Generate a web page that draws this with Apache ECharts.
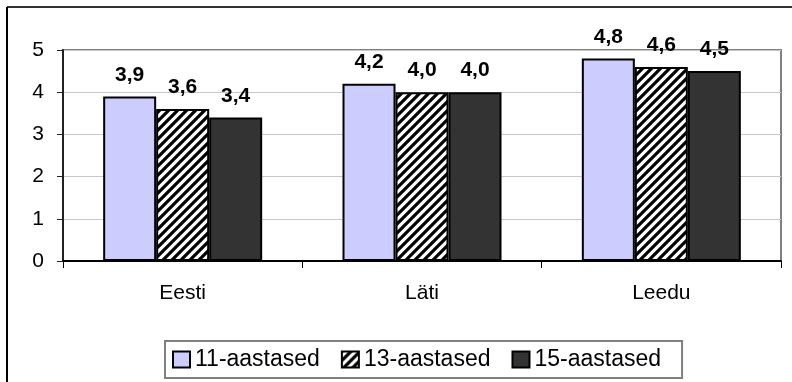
<!DOCTYPE html>
<html>
<head>
<meta charset="utf-8">
<script src="https://cdn.jsdelivr.net/npm/echarts@6/dist/echarts.min.js"></script>
<style>
  html, body { margin: 0; padding: 0; background: #fff; }
  #chart { width: 792px; height: 382px; }
</style>
</head>
<body>
<div id="chart"></div>
<script>
// Countries and age groups
const countries = ['Eesti', 'Läti', 'Leedu'];
const ageGroups = ['11-aastased', '13-aastased', '15-aastased'];

// Values per age group, in country order
const age11 = [3.9, 4.2, 4.8];
const age13 = [3.6, 4.0, 4.6];
const age15 = [3.4, 4.0, 4.5];

// Y axis range
const yTicks = [0, 1, 2, 3, 4, 5];

const FONT = "'Liberation Sans', Arial, sans-serif";

// Diagonal hatch fill ("/" stripes on white)
function makeHatch() {
  const s = 9;
  const c = document.createElement('canvas');
  c.width = s; c.height = s;
  const g = c.getContext('2d');
  g.fillStyle = '#ffffff';
  g.fillRect(0, 0, s, s);
  g.strokeStyle = '#000000';
  g.lineWidth = 3.2;
  g.beginPath();
  g.moveTo(-2, s + 2); g.lineTo(s + 2, -2);
  g.moveTo(-2, 2); g.lineTo(2, -2);
  g.moveTo(s - 2, s + 2); g.lineTo(s + 2, s - 2);
  g.stroke();
  return c;
}
const hatch = { image: makeHatch(), repeat: 'repeat' };

const fills = ['#ccccff', hatch, '#333333'];
const values = [age11, age13, age15];

const fmt = v => v.toFixed(1).replace('.', ',');

const chart = echarts.init(document.getElementById('chart'), null, { renderer: 'canvas' });

chart.setOption({
  animation: false,
  backgroundColor: '#ffffff',
  textStyle: { fontFamily: FONT },
  grid: {
    left: 63, right: 11, top: 50, bottom: 121,
    show: true, borderColor: '#808080', borderWidth: 2, backgroundColor: 'transparent'
  },
  legend: {
    data: ageGroups,
    left: 165, top: 341,
    padding: [7, 21, 7, 7],
    itemGap: 21,
    itemWidth: 17, itemHeight: 16,
    icon: 'rect',
    borderColor: '#808080', borderWidth: 2,
    itemStyle: { borderColor: '#000', borderWidth: 2 },
    textStyle: { fontFamily: FONT, fontSize: 23, color: '#000' }
  },
  xAxis: {
    type: 'category',
    data: countries,
    axisLine: { lineStyle: { color: '#000', width: 2 } },
    axisTick: { show: true, length: 7, inside: false, lineStyle: { color: '#000', width: 1 } },
    axisLabel: { fontFamily: FONT, fontSize: 21, color: '#000', margin: 22 },
    splitLine: { show: false }
  },
  yAxis: {
    type: 'value',
    min: yTicks[0], max: yTicks[yTicks.length - 1], interval: 1,
    axisLine: { show: true, lineStyle: { color: '#222', width: 2 } },
    axisTick: { show: true, length: 6, lineStyle: { color: '#222', width: 1 } },
    axisLabel: { fontFamily: FONT, fontSize: 21, color: '#000', margin: 19 },
    splitLine: { show: true, lineStyle: { color: '#c8c8c8', width: 1 } }
  },
  series: ageGroups.map((name, i) => ({
    name: name,
    type: 'bar',
    data: values[i],
    barWidth: 53,
    barGap: '0%',
    itemStyle: { color: fills[i], borderColor: '#000', borderWidth: 2 },
    label: {
      show: true, position: 'top', distance: 11,
      fontFamily: FONT, fontSize: 21, fontWeight: 'bold', color: '#000',
      formatter: p => fmt(p.value)
    }
  })),
  graphic: [
    { type: 'line', shape: { x1: 7, y1: 7, x2: 792, y2: 7 }, style: { stroke: '#333', lineWidth: 2 }, silent: true },
    { type: 'line', shape: { x1: 7, y1: 7, x2: 7, y2: 382 }, style: { stroke: '#000', lineWidth: 2 }, silent: true }
  ]
});
</script>
</body>
</html>
